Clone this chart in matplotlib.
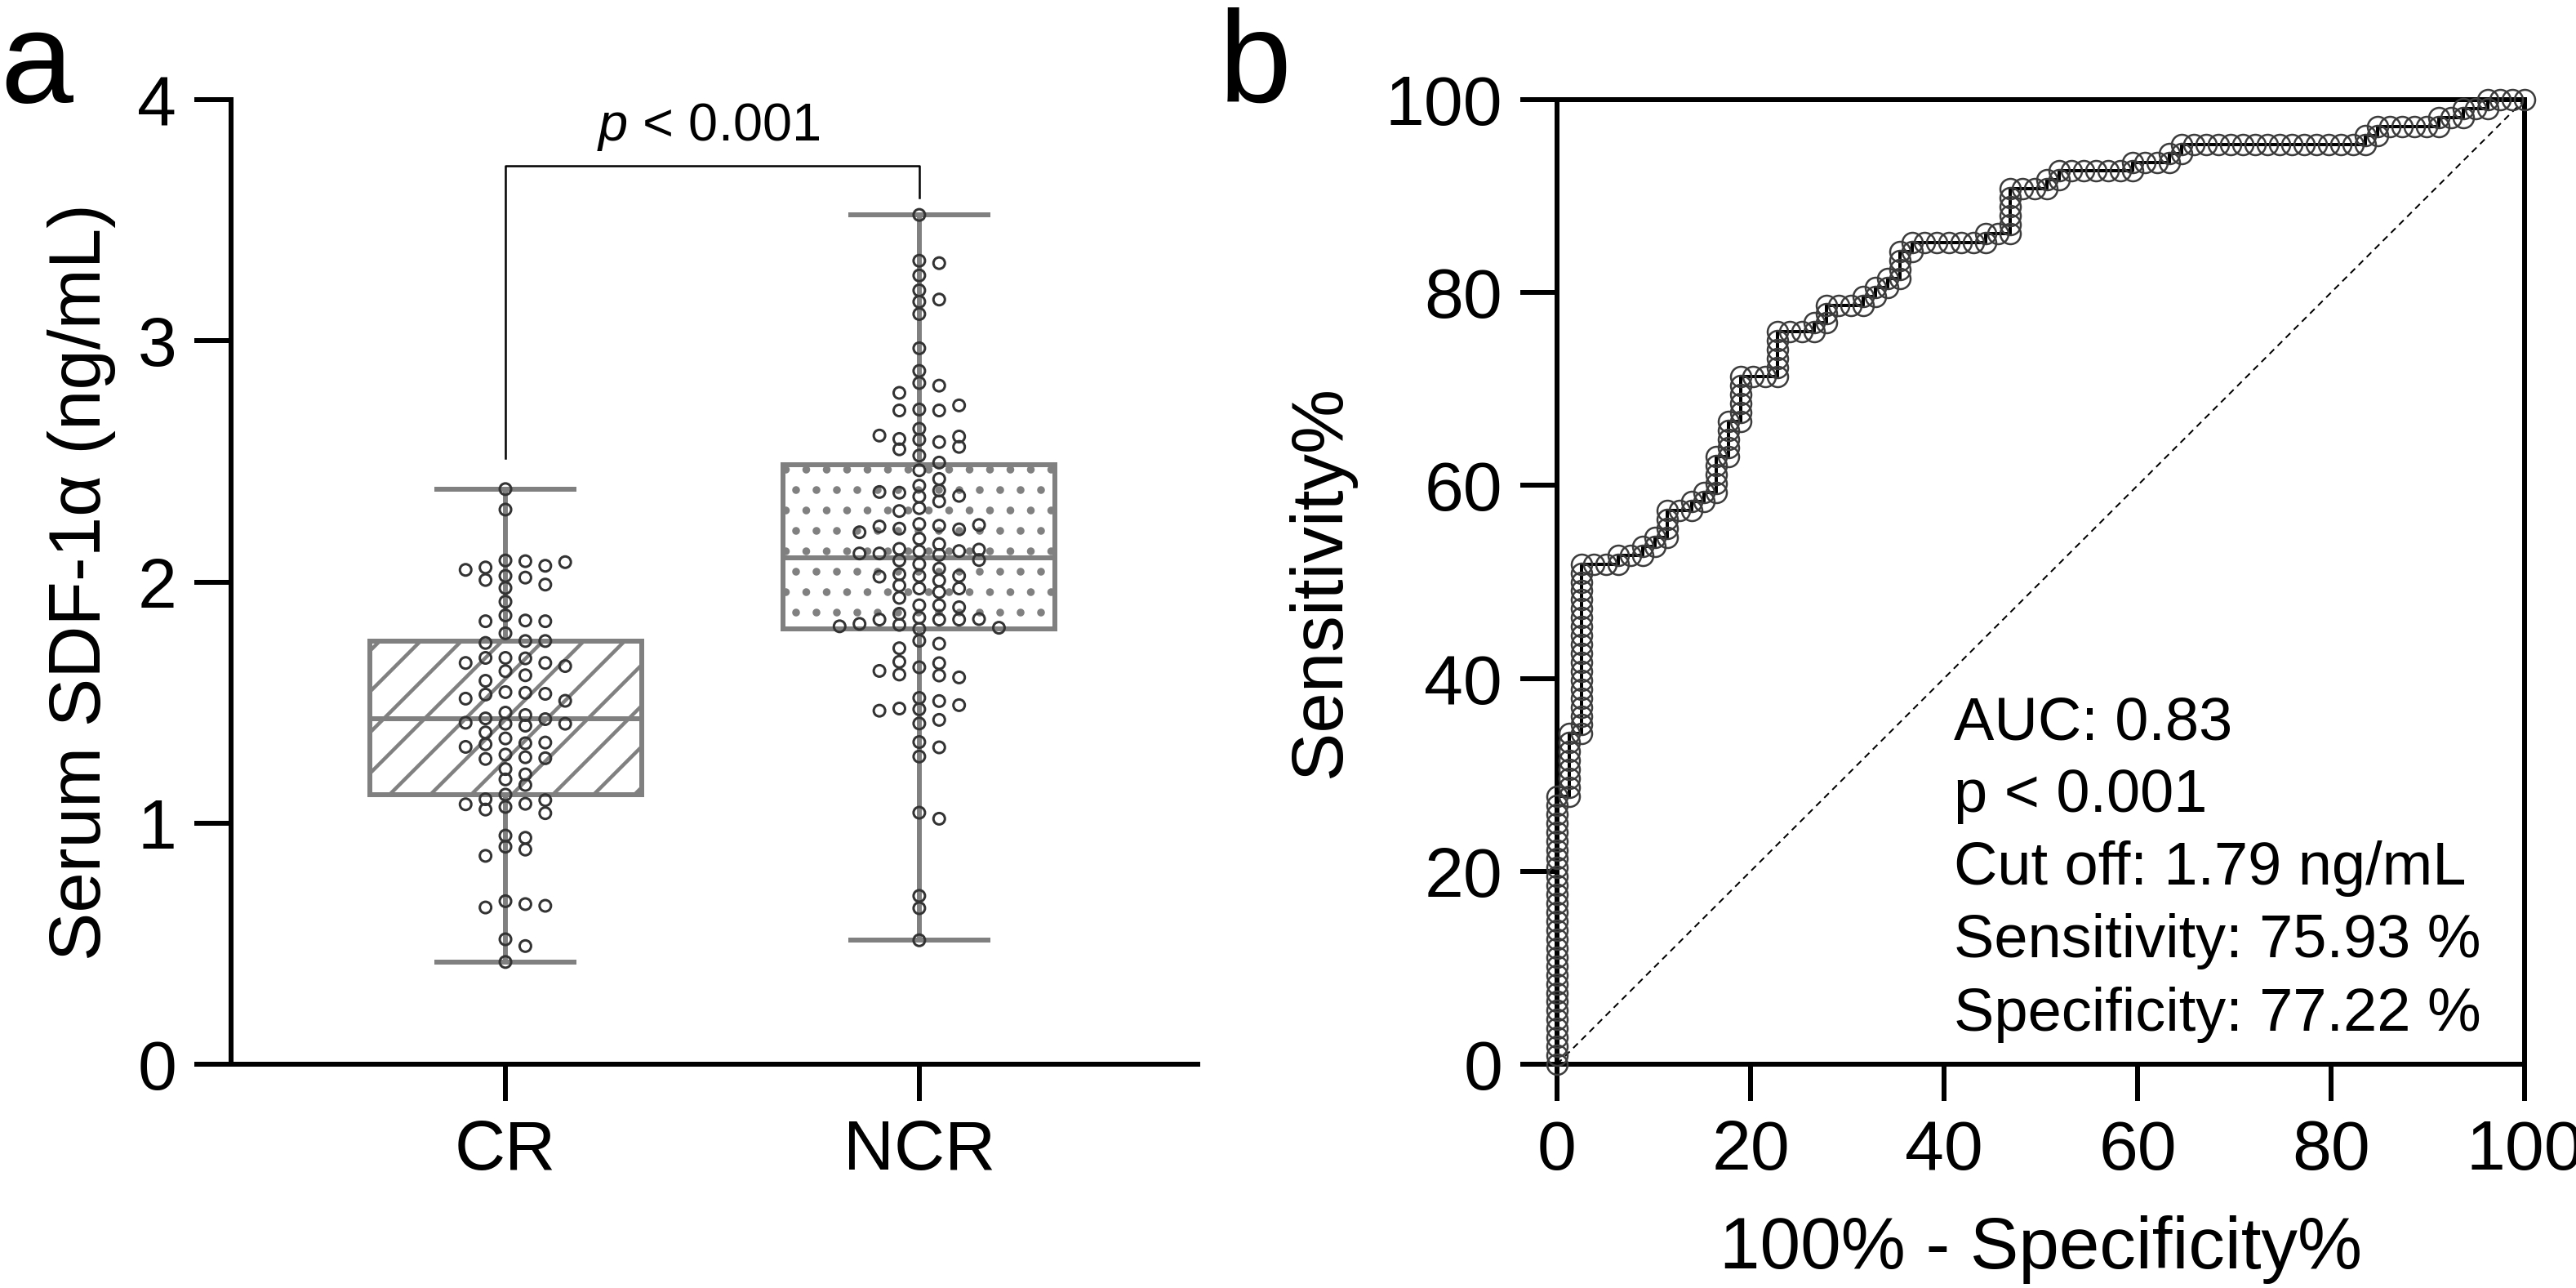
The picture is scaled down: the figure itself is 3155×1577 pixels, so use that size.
import numpy as np
import matplotlib
matplotlib.use("Agg")
import matplotlib.pyplot as plt

DPI = 150
PT = 72 / DPI  # points per output pixel

cr_values = [
    2.385, 2.30,
    2.089, 2.086, 2.060, 2.067, 2.050, 2.082,
    2.025, 2.018, 2.008, 1.975, 1.989, 1.918,
    1.861, 1.840, 1.837, 1.837,
    1.787, 1.755, 1.747, 1.755,
    1.685, 1.683, 1.685, 1.664, 1.664, 1.651,
    1.630, 1.613, 1.590,
    1.543, 1.540, 1.533, 1.536, 1.516, 1.507,
    1.458, 1.448, 1.434, 1.431,
    1.412, 1.416, 1.412, 1.404,
    1.376, 1.351, 1.331, 1.327, 1.334, 1.316,
    1.284, 1.273, 1.266, 1.269,
    1.224, 1.202, 1.181, 1.158,
    1.118, 1.080, 1.099, 1.095, 1.078, 1.067, 1.056, 1.041,
    0.948, 0.939, 0.902, 0.890, 0.864,
    0.676, 0.664, 0.650, 0.657,
    0.518, 0.490, 0.424,
]

# NCR group (n=108)
ncr_values = [
    3.522, 3.332, 3.322, 3.271, 3.209, 3.171, 3.162,
    3.111, 2.969, 2.875, 2.825, 2.814, 2.784,
    2.715, 2.711, 2.711, 2.732, 2.635,
    2.590, 2.580, 2.593, 2.603, 2.607,
    2.550, 2.560, 2.524, 2.495, 2.463, 2.427,
    2.399, 2.379, 2.370, 2.357, 2.373, 2.354, 2.334,
    2.306, 2.294,
    2.240, 2.233, 2.221, 2.218, 2.230, 2.236,
    2.206, 2.179, 2.157,
    2.127, 2.137, 2.128, 2.112, 2.118, 2.134, 2.118,
    2.089, 2.091, 2.074, 2.055,
    2.032, 2.025, 2.025, 2.022,
    2.006, 1.985, 1.973, 1.973, 1.958, 1.934,
    1.903, 1.903, 1.895,
    1.868, 1.852, 1.844, 1.844, 1.844, 1.846,
    1.826, 1.822, 1.810, 1.816, 1.805,
    1.756, 1.744, 1.725,
    1.646, 1.663, 1.669,
    1.612, 1.616, 1.604, 1.631,
    1.519, 1.506, 1.472, 1.475, 1.489, 1.466,
    1.413, 1.428, 1.336, 1.314, 1.276,
    1.043, 1.018, 0.698, 0.647, 0.514,
]

groups = ["CR", "NCR"]
p_text = r"$\it{p}$ < 0.001"

# ROC: class labels from the highest value downwards, as runs
# N = NCR (true positive step), C = CR (false positive step)
roc_runs = [
    ("N", 30), ("C", 1), ("N", 7), ("C", 1), ("N", 19), ("C", 3), ("N", 1),
    ("C", 2), ("N", 1), ("C", 1), ("N", 1), ("C", 1), ("N", 3), ("C", 2),
    ("N", 1), ("C", 1), ("N", 1), ("C", 1), ("N", 4), ("C", 1), ("N", 4),
    ("C", 1), ("N", 5), ("C", 3), ("N", 5), ("C", 3), ("N", 1), ("C", 1),
    ("N", 2), ("C", 3), ("N", 1), ("C", 1), ("N", 1), ("C", 1), ("N", 1),
    ("C", 1), ("N", 3), ("C", 1), ("N", 1), ("C", 6), ("N", 1), ("C", 2),
    ("N", 5), ("C", 3), ("N", 1), ("C", 1), ("N", 1), ("C", 6), ("N", 1),
    ("C", 3), ("N", 1), ("C", 1), ("N", 1), ("C", 15), ("N", 1), ("C", 1),
    ("N", 1), ("C", 5), ("N", 1), ("C", 2), ("N", 1), ("C", 2), ("N", 1),
    ("C", 3),
]
roc_text = ["AUC: 0.83", "p < 0.001", "Cut off: 1.79 ng/mL",
            "Sensitivity: 75.93 %", "Specificity: 77.22 %"]

plt.rcParams["font.family"] = ["Liberation Sans", "DejaVu Sans"]
plt.rcParams["mathtext.fontset"] = "custom"
plt.rcParams["mathtext.rm"] = "Liberation Sans"
plt.rcParams["mathtext.it"] = "Liberation Sans:italic"
plt.rcParams["hatch.linewidth"] = 4.5 * PT
plt.rcParams["hatch.color"] = "#808080"

GRAY = "#808080"
DOT = "#333333"
TICK_FS = 86 * PT
LABEL_FS = 89 * PT


def swarm_offsets(values, step, min_dy):
    """Simple beeswarm: push a point sideways until it no longer overlaps."""
    cands = [0.0] + [s * k * 0.5 for k in range(1, 60) for s in (1, -1)]
    placed = []
    out = []
    for v in values:
        for c in cands:
            if all(not (abs(c - px) < 0.999 and abs(v - py) < min_dy) for px, py in placed):
                break
        placed.append((c, v))
        out.append(c)
    return np.array(out) * step


def box_stats(vals):
    q1, med, q3 = np.percentile(vals, [25, 50, 75], method="weibull")
    return dict(med=med, q1=q1, q3=q3, whislo=min(vals), whishi=max(vals), fliers=[])


def style_ticks(ax):
    ax.tick_params(width=6 * PT, length=45 * PT, pad=22 * PT,
                   labelsize=TICK_FS, color="black")
    for sp in ax.spines.values():
        sp.set_linewidth(6 * PT)


fig = plt.figure(figsize=(3155 / DPI, 1577 / DPI), dpi=DPI)

# ---------------- panel a ----------------
ax1 = fig.add_axes([283 / 3155, 1 - 1303 / 1577, 1184 / 3155, 1181 / 1577])
stats = [box_stats(cr_values), box_stats(ncr_values)]
line_kw = dict(color=GRAY, linewidth=6 * PT)
bp = ax1.bxp(stats, positions=[0, 1], widths=0.657, capwidths=0.33,
             patch_artist=True, showfliers=False,
             boxprops=dict(facecolor="white", edgecolor=GRAY, linewidth=6 * PT),
             whiskerprops=line_kw, capprops=line_kw, medianprops=line_kw)
bp["boxes"][0].set_hatch("/")
bp["boxes"][1].set_hatch(".")

for i, vals in enumerate([cr_values, ncr_values]):
    dx = swarm_offsets(vals, step=24.4 / 507, min_dy=12.5 / 295.25)
    ax1.scatter(i + dx, vals, s=(14 * PT) ** 2, facecolors="none",
                edgecolors=DOT, linewidths=3 * PT, zorder=3)

ax1.set_xlim(-0.663, 1.673)
ax1.set_ylim(0, 4)
ax1.set_yticks([0, 1, 2, 3, 4])
ax1.set_xticks([0, 1])
ax1.set_xticklabels(groups)
ax1.spines["top"].set_visible(False)
ax1.spines["right"].set_visible(False)
style_ticks(ax1)
ax1.set_ylabel("Serum SDF-1α (ng/mL)", fontsize=LABEL_FS, va="center")
ax1.yaxis.set_label_coords(-0.1546, 0.5)

# significance bracket
ax1.plot([0, 0, 1, 1], [2.513, 3.726, 3.726, 3.594], color="black",
         linewidth=2.5 * PT, clip_on=False)
ax1.text(0.49, 3.83, p_text, fontsize=65 * PT, ha="center", va="baseline")

# ---------------- panel b ----------------
ax2 = fig.add_axes([1907 / 3155, 1 - 1303 / 1577, 1185 / 3155, 1181 / 1577])
labels = np.concatenate([[lab] * n for lab, n in roc_runs])
tp = np.concatenate([[0], np.cumsum(labels == "N")])
fp = np.concatenate([[0], np.cumsum(labels == "C")])
sens = 100 * tp / tp[-1]
fpr = 100 * fp / fp[-1]

ax2.plot([0, 100], [0, 100], color="black", linewidth=2 * PT,
         linestyle=(0, (4, 3)), zorder=2)
ax2.plot(fpr, sens, color="black", linewidth=4 * PT, marker="o",
         markersize=25 * PT, markerfacecolor="none", markeredgecolor="#3c3c3c",
         markeredgewidth=2.5 * PT, clip_on=False, zorder=3)

ax2.set_xlim(0, 100)
ax2.set_ylim(0, 100)
ax2.set_xticks(range(0, 101, 20))
ax2.set_yticks(range(0, 101, 20))
style_ticks(ax2)
ax2.set_ylabel("Sensitivity%", fontsize=LABEL_FS, va="center")
ax2.yaxis.set_label_coords(-0.2439, 0.5)
ax2.set_xlabel("100% - Specificity%", fontsize=LABEL_FS, va="center")
ax2.xaxis.set_label_coords(0.5, -0.1922)

for i, line in enumerate(roc_text):
    ax2.text(41.0, 33.7 - i * 7.55, line, fontsize=74 * PT, va="baseline")

# panel letters
fig.text(0 / 3155, 1 - 125 / 1577, "a", fontsize=160 * PT, va="baseline")
fig.text(1493 / 3155, 1 - 125 / 1577, "b", fontsize=160 * PT, va="baseline")

fig.savefig("out.png", dpi=DPI)
